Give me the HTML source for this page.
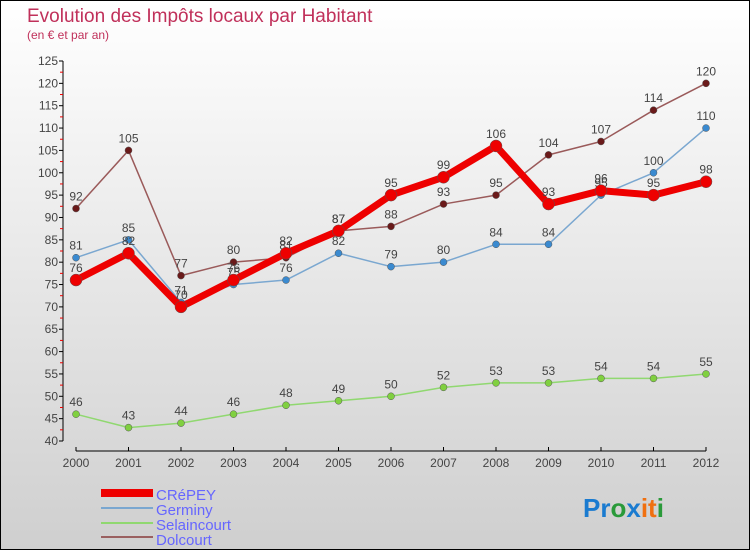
<!DOCTYPE html>
<html><head><meta charset="utf-8"><style>
body{margin:0}
#c{width:750px;height:550px;position:relative;box-sizing:border-box;border:1px solid #000;background:linear-gradient(#fff,#cfcfcf);font-family:"Liberation Sans",sans-serif;overflow:hidden}
svg text{font-family:"Liberation Sans",sans-serif}
</style></head><body>
<div id="c">
<svg width="750" height="550" id="s">
<text x="26" y="21" font-size="19" fill="#c0305a">Evolution des Impôts locaux par Habitant</text>
<text x="26" y="38" font-size="12" fill="#c0305a">(en € et par an)</text>
<g id="axes"></g><g id="series"></g>
<g>
<rect x="100" y="488" width="52" height="8" fill="#e00"/>
<text x="155" y="499" font-size="15" fill="#66f">CRéPEY</text>
<rect x="100" y="506" width="52" height="2" fill="#7aa7d0"/>
<text x="155" y="514" font-size="15" fill="#66f">Germiny</text>
<rect x="100" y="521" width="52" height="2" fill="#90d870"/>
<text x="155" y="529" font-size="15" fill="#66f">Selaincourt</text>
<rect x="100" y="535" width="52" height="2" fill="#9a6060"/>
<text x="155" y="544" font-size="15" fill="#66f">Dolcourt</text>
</g>
<text x="582" y="516" font-size="26" font-weight="bold"><tspan fill="#1a7bd0">Pr</tspan><tspan fill="#2a9a3a">o</tspan><tspan fill="#1a7bd0">x</tspan><tspan fill="#f07010">it</tspan><tspan fill="#2a9a3a">i</tspan></text>
</svg></div>
<script>
const years=[2000,2001,2002,2003,2004,2005,2006,2007,2008,2009,2010,2011,2012];
const crepey=[76,82,70,76,82,87,95,99,106,93,96,95,98];
const germiny=[81,85,71,75,76,82,79,80,84,84,95,100,110];
const selaincourt=[46,43,44,46,48,49,50,52,53,53,54,54,55];
const dolcourt=[92,105,77,80,81,87,88,93,95,104,107,114,120];
const yTicks=[40,45,50,55,60,65,70,75,80,85,90,95,100,105,110,115,120,125];
const NS="http://www.w3.org/2000/svg";
const xs=i=>75+i*52.5;
const ys=v=>440-(v-40)*(380/85);
function mk(t,a,p){const e=document.createElementNS(NS,t);for(const k in a)e.setAttribute(k,a[k]);p.appendChild(e);return e;}
const ax=document.getElementById('axes');
let yl=mk('line',{x1:62,y1:60,x2:62,y2:440,stroke:'#000'},ax);


yTicks.forEach(v=>{
 mk('line',{x1:58,x2:62,y1:ys(v),y2:ys(v),stroke:'#000'},ax);
 if(v<125)mk('line',{x1:59,x2:62,y1:ys(v+2.5),y2:ys(v+2.5),stroke:'#e00'},ax);
 const t=mk('text',{x:57,y:ys(v)+4,'font-size':12,fill:'#444','text-anchor':'end'},ax);t.textContent=v;
 
 
});
let xl=mk('line',{x1:75,y1:450,x2:705,y2:450,stroke:'#000'},ax);


years.forEach((y,i)=>{
 mk('line',{x1:xs(i),x2:xs(i),y1:446,y2:450,stroke:'#000'},ax);
 const t=mk('text',{x:xs(i),y:466,'font-size':12,fill:'#444','text-anchor':'middle'},ax);t.textContent=y;
 
 
});
const sg=document.getElementById('series');
function draw(name,data,color,dot,w,r){
 const g=mk('g',{},sg);
 
 
 const pl=mk('polyline',{points:data.map((v,i)=>xs(i)+','+ys(v)).join(' '),fill:'none',stroke:color,'stroke-width':w,'stroke-linejoin':'round'},g);
 
 
 data.forEach((v,i)=>{
  const c=mk('circle',{cx:xs(i),cy:ys(v),r:r,fill:dot,stroke:'#555','stroke-width':0.5},g);
  
  
  const t=mk('text',{x:xs(i),y:ys(v)-8,'font-size':12,fill:'#444','text-anchor':'middle'},g);t.textContent=v;
  
  
 });
}
draw('selaincourt',selaincourt,'#90d870','#80d040',1.5,3.5);
draw('dolcourt',dolcourt,'#9a5a5a','#6a1a1a',1.5,3.5);
draw('germiny',germiny,'#7aa7d0','#3a8ad0',1.5,3.5);
draw('crepey',crepey,'#ee0000','#ee0000',7,6);
</script>
</body></html>
